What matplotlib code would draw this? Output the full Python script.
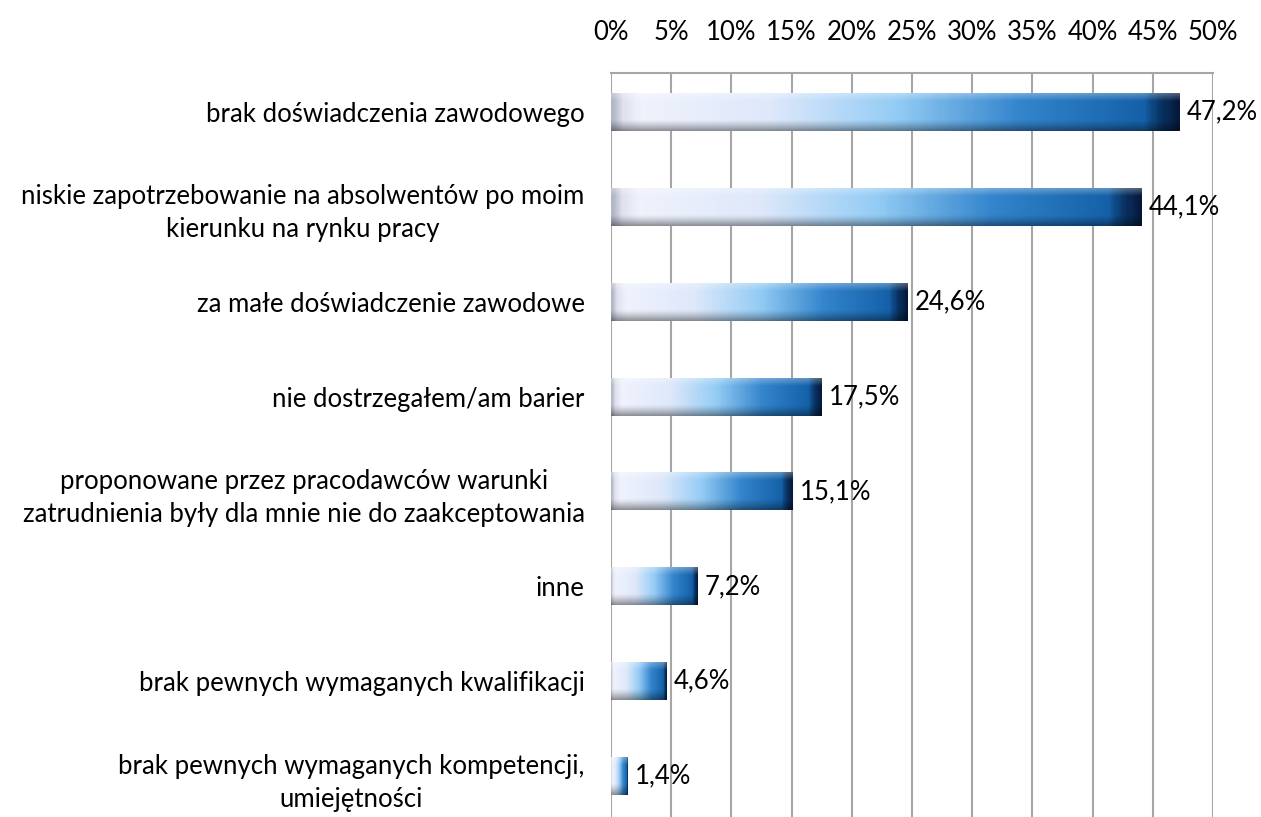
import numpy as np
import matplotlib.pyplot as plt
from matplotlib.colors import LinearSegmentedColormap

plt.rcParams['font.family'] = ['Lato', 'DejaVu Sans']

labels = ['brak doświadczenia zawodowego',
          'niskie zapotrzebowanie na absolwentów po moim\nkierunku na rynku pracy',
          'za małe doświadczenie zawodowe',
          'nie dostrzegałem/am barier',
          'proponowane przez pracodawców warunki\nzatrudnienia były dla mnie nie do zaakceptowania',
          'inne',
          'brak pewnych wymaganych kwalifikacji',
          'brak pewnych wymaganych kompetencji,\numiejętności']
values = [47.2, 44.1, 24.6, 17.5, 15.1, 7.2, 4.6, 1.4]
ticks = [0, 5, 10, 15, 20, 25, 30, 35, 40, 45, 50]

fig = plt.figure(figsize=(12.61, 8.17), dpi=100)
ax = fig.add_axes([611/1261, 0, 602/1261, (817-73)/817])

# horizontal colour ramp for each bar: pale -> light blue -> blue -> dark cap
hcmap = LinearSegmentedColormap.from_list('bar', [
    (0.00, (0.70, 0.72, 0.78)),
    (0.02, (0.88, 0.89, 0.94)),
    (0.05, (0.94, 0.95, 0.99)),
    (0.28, (0.87, 0.91, 0.98)),
    (0.50, (0.58, 0.80, 0.96)),
    (0.72, (0.20, 0.52, 0.80)),
    (0.94, (0.08, 0.38, 0.66)),
    (0.965, (0.04, 0.22, 0.42)),
    (1.00, (0.02, 0.10, 0.24))])
nx, ny = 300, 40
base = hcmap(np.linspace(0, 1, nx))[:, :3]
yy = np.linspace(0, 1, ny)
# vertical shading: bright top edge, dark bottom edge
shade = 1.0 - 0.40 * np.clip((yy - 0.7) / 0.3, 0, 1) ** 1.3
hi = 0.30 * np.clip((0.2 - yy) / 0.2, 0, 1)

h = 0.40
for i, v in enumerate(values):
    img = base[None, :, :] * shade[:, None, None]
    img = img + hi[:, None, None] * (1 - img)
    ax.imshow(np.clip(img, 0, 1), extent=(0, v, i + h/2, i - h/2),
              aspect='auto', interpolation='bilinear', zorder=3)
    ax.text(v + 0.6, i, f'{v:.1f}%'.replace('.', ','), va='center',
            ha='left', fontsize=18.5, zorder=4)

ax.set_xlim(0, 50)
ax.set_ylim(7.43, -0.41)
ax.set_xticks(ticks)
ax.set_xticklabels([f'{t}%' for t in ticks], fontsize=18.5)
ax.xaxis.tick_top()
ax.tick_params(axis='x', length=0, pad=20)
ax.set_yticks(range(len(labels)))
ax.set_yticklabels(labels, fontsize=18.5, ma='center', linespacing=1.4)
ax.tick_params(axis='y', length=0, pad=19)
ax.grid(axis='x', color='#a6a6a6', linewidth=1.5, zorder=0)
for s in ['left', 'right', 'bottom']:
    ax.spines[s].set_visible(False)
ax.spines['top'].set_color('#a6a6a6')
ax.spines['top'].set_linewidth(1.5)

plt.savefig('out.png', dpi=100)
